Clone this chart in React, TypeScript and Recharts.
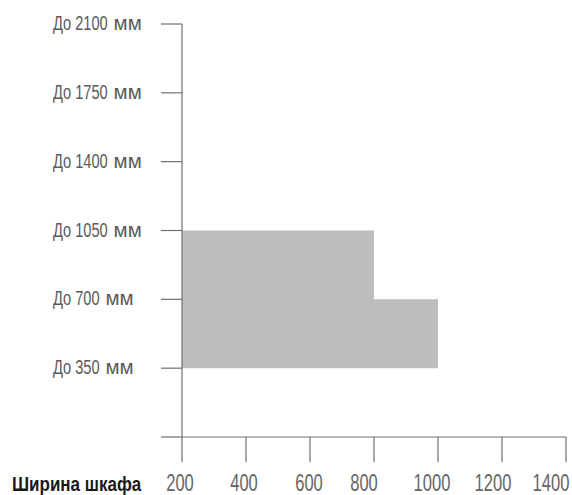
import React from 'react';
import { AreaChart, Area, XAxis, YAxis, Label } from 'recharts';

// cabinet width (mm) where each step of the allowed height range starts
const cabinetWidths = [200, 800, 1000];
const heightFrom = [350, 350, 350];
const heightTo = [1050, 700, 700];

const heightTicks = [0, 350, 700, 1050, 1400, 1750, 2100];
const widthTicks = [200, 400, 600, 800, 1000, 1200, 1400];
const xTitle = 'Ширина шкафа';
const heightPrefix = 'До';
const heightUnit = 'мм';

const data = cabinetWidths.map((w, i) => ({
  width: w,
  range: [heightFrom[i], heightTo[i]],
}));

const FONT = '"Liberation Sans", Arial, sans-serif';
const AXIS = '#707070';
const YFS = 19.5;
const YSCALE = 0.75;

const YTick = (props: any) => {
  const { x, y, payload } = props;
  if (!payload.value) return <g />;
  const num = String(payload.value);
  const start = x - 108;
  // rough em width of "До 2100" in Liberation Sans
  const w1 = (1.511 + 0.556 * num.length) * YFS * YSCALE;
  return (
    <g fontFamily={FONT} fontSize={YFS} fill="#5a5a5a">
      <text transform={`translate(${start},${y + 6}) scale(${YSCALE},1)`}>
        {`${heightPrefix} ${num}`}
      </text>
      <text transform={`translate(${start + w1 + 6},${y + 6}) scale(1.05,1)`}>
        {heightUnit}
      </text>
    </g>
  );
};

// labels in the original sit a bit left of their ticks
const shift: Record<number, number> = { 200: -2, 400: -2, 600: -1, 800: -10, 1000: -6, 1200: -9, 1400: -15 };

const XTick = (props: any) => {
  const { x, y, payload } = props;
  const dx = shift[payload.value] ?? 0;
  return (
    <text
      transform={`translate(${x + dx},${y + 29}) scale(0.72,1)`}
      textAnchor="middle"
      fontFamily={FONT}
      fontSize={23}
      fill="#666"
    >
      {payload.value}
    </text>
  );
};

const XTitle = (props: any) => {
  const vb = props.viewBox || { x: 182, y: 437 };
  return (
    <text
      transform={`translate(${vb.x - 170},${vb.y + 54}) scale(0.81,1)`}
      fontFamily={FONT}
      fontSize={21}
      fontWeight="bold"
      fill="#1a1a1a"
    >
      {xTitle}
    </text>
  );
};

export default function App() {
  return (
    <div style={{ position: 'absolute', left: 0, top: 0, background: '#fff' }}>
      <AreaChart
        width={572}
        height={495}
        data={data}
        margin={{ top: 24, right: 6, bottom: 0, left: 0 }}
      >
        <XAxis
          dataKey="width"
          type="number"
          domain={[200, 1400]}
          ticks={widthTicks}
          interval={0}
          height={58}
          tickSize={25}
          tickMargin={0}
          tick={<XTick />}
          axisLine={{ stroke: AXIS, strokeWidth: 1.2 }}
          tickLine={{ stroke: AXIS, strokeWidth: 1.2 }}
        >
          <Label content={<XTitle />} />
        </XAxis>
        <YAxis
          type="number"
          domain={[0, 2100]}
          ticks={heightTicks}
          interval={0}
          width={182}
          tickSize={21}
          tickMargin={0}
          tick={<YTick />}
          axisLine={{ stroke: AXIS, strokeWidth: 1.2 }}
          tickLine={{ stroke: AXIS, strokeWidth: 1.2 }}
        />
        <Area
          type="stepAfter"
          dataKey="range"
          stroke="none"
          fill="#bdbdc0"
          fillOpacity={1}
          dot={false}
          activeDot={false}
          isAnimationActive={false}
        />
      </AreaChart>
    </div>
  );
}
